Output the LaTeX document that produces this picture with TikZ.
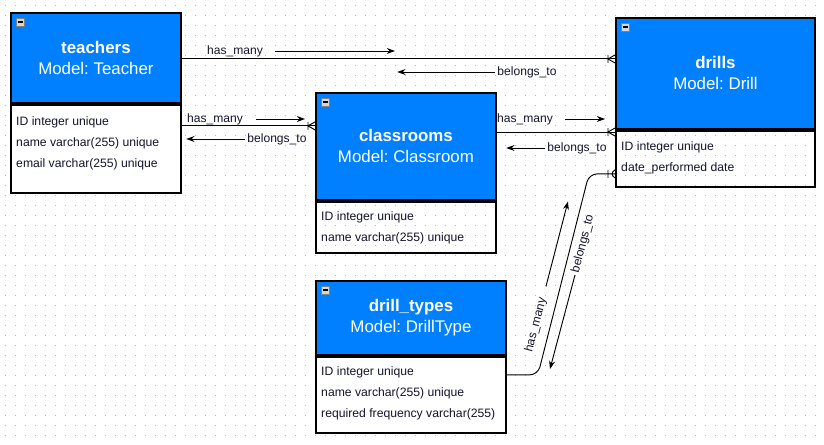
\documentclass[tikz,border=0pt]{standalone}
\usepackage{fontspec}
\setmainfont{Liberation Sans}
\usepackage{xcolor}
\definecolor{erblue}{RGB}{0,128,255}
\definecolor{erdot}{RGB}{185,185,185}
\definecolor{erink}{RGB}{20,20,45}
\definecolor{ericon}{RGB}{215,215,215}
\usetikzlibrary{arrows.meta, calc}
\frenchspacing

\tikzset{
  crowfoot/.pic={\draw[line width=0.8pt] (-7,-4) -- (-7,4) (0,-4) -- (-7,0) -- (0,4);}
}

\begin{document}
\begin{tikzpicture}[x=0.03cm, y=-0.03cm,
  header/.style={draw=black, line width=1.6pt, fill=erblue, text=white,
    anchor=north west, inner sep=0pt, align=center,
    font=\fontsize{14.4}{17.9}\selectfont},
  body/.style={draw=black, line width=1.6pt, anchor=north west, inner sep=0pt},
  attrs/.style={anchor=north west, inner sep=0pt, align=left, text=erink,
    font=\fontsize{10.4}{17.9}\selectfont},
  minusbox/.style={draw=gray, line width=0.5pt, fill=ericon, minimum size=0.24cm,
    inner sep=0pt, path picture={\draw[black, line width=1.1pt]
      ([xshift=-2.2pt]path picture bounding box.center) --
      ([xshift=2.2pt]path picture bounding box.center);}},
  rel/.style={draw=black, line width=0.8pt},
  flow/.style={-{Stealth[length=7pt, width=5pt]}, line width=0.8pt},
  rlabel/.style={inner sep=0pt, text=erink, font=\fontsize{10.3}{12}\selectfont}
]

\useasboundingbox (0,0) rectangle (824,444);
\fill[white] (0,0) rectangle (824,444);

% Dotted grid
\foreach \gx in {5,15,...,815}
  \foreach \gy in {5,15,...,435}
    \fill[erdot] (\gx,\gy) rectangle ++(1,1);

% Tables
\node[header, minimum width=5.1cm, minimum height=2.7cm] (teachers) at (10,12)
  {\textbf{teachers}\\Model: Teacher};
\node[body, fill=white, minimum width=5.1cm, minimum height=2.64cm] (teachersBody) at (teachers.south west) {};
\node[attrs] (teachersAttrs) at ($(teachersBody.north west)+(6,13)$)
  {ID integer unique\\name varchar(255) unique\\email varchar(255) unique};
\node[minusbox] (teachersIcon) at ($(teachers.north west)+(10.5,10)$) {};

\node[header, minimum width=5.4cm, minimum height=3.21cm] (classrooms) at (315,92)
  {\textbf{classrooms}\\Model: Classroom};
\node[body, minimum width=5.4cm, minimum height=1.53cm] (classroomsBody) at (classrooms.south west) {};
\node[attrs] (classroomsAttrs) at ($(classroomsBody.north west)+(6,11)$)
  {ID integer unique\\name varchar(255) unique};
\node[minusbox] (classroomsIcon) at ($(classrooms.north west)+(10.5,10)$) {};

\node[header, minimum width=5.97cm, minimum height=3.33cm] (drills) at (615,17)
  {\textbf{drills}\\Model: Drill};
\node[body, minimum width=5.97cm, minimum height=1.68cm] (drillsBody) at (drills.south west) {};
\node[attrs] (drillsAttrs) at ($(drillsBody.north west)+(6,12)$)
  {ID integer unique\\date\_performed date};
\node[minusbox] (drillsIcon) at ($(drills.north west)+(10.5,10)$) {};

\node[header, minimum width=5.7cm, minimum height=2.22cm] (drillTypes) at (315,280)
  {\textbf{drill\_types}\\Model: DrillType};
\node[body, fill=white, minimum width=5.7cm, minimum height=2.28cm] (drillTypesBody) at (drillTypes.south west) {};
\node[attrs] (drillTypesAttrs) at ($(drillTypesBody.north west)+(6,11)$)
  {ID integer unique\\name varchar(255) unique\\required frequency varchar(255)};
\node[minusbox] (drillTypesIcon) at ($(drillTypes.north west)+(10.5,10)$) {};

% teachers -- drills
\coordinate (tdOut) at ($(teachers.east)+(0,1)$);
\draw[rel] (tdOut) -- (drills.west |- tdOut) pic {crowfoot};
\node[rlabel] (hmTD) at (235,51) {has\_many};
\draw[flow] ($(hmTD.east)+(12,0)$) -- ++(120,0);
\node[rlabel] (btTD) at (527,72) {belongs\_to};
\draw[flow] ($(btTD.west)+(-2,0)$) -- ++(-98,0);

% teachers -- classrooms
\coordinate (tcOut) at ($(teachersBody.north east)+(0,22)$);
\draw[rel] (tcOut) -- (classrooms.west |- tcOut) pic {crowfoot};
\node[rlabel] (hmTC) at (215,119) {has\_many};
\draw[flow] ($(hmTC.east)+(13,0)$) -- ++(49,0);
\node[rlabel] (btTC) at (277,139) {belongs\_to};
\draw[flow] ($(btTC.west)+(-2,0)$) -- ++(-59,0);

% classrooms -- drills
\coordinate (cdOut) at ($(classrooms.north east)+(0,40)$);
\draw[rel] (cdOut) -- (drillsBody.west |- cdOut) pic {crowfoot};
\node[rlabel] (hmCD) at (525,119) {has\_many};
\draw[flow] ($(hmCD.east)+(12,0)$) -- ++(40,0);
\node[rlabel] (btCD) at (577,148) {belongs\_to};
\draw[flow] ($(btCD.west)+(-2,0)$) -- ++(-39,0);

% drill_types -- drills
\coordinate (dtOut) at ($(drillTypesBody.north east)+(0,19)$);
\coordinate (dtIn) at ($(drillsBody.north west)+(0,44)$);
\draw[rel, rounded corners=7pt] (dtOut) -- ++(31,0) -- ($(dtIn)+(-26,0)$) -- (dtIn) pic {crowfoot};
\node[rlabel, rotate=75.5] (hmDT) at (536,325) {has\_many};
\draw[flow] ($(hmDT.east)!-10pt!(hmDT.west)$) -- ++(22,-85);
\node[rlabel, rotate=75.5] (btDT) at (583,244) {belongs\_to};
\draw[flow] ($(btDT.west)!-2pt!(btDT.east)$) -- ++(-25,94);

\end{tikzpicture}
\end{document}
